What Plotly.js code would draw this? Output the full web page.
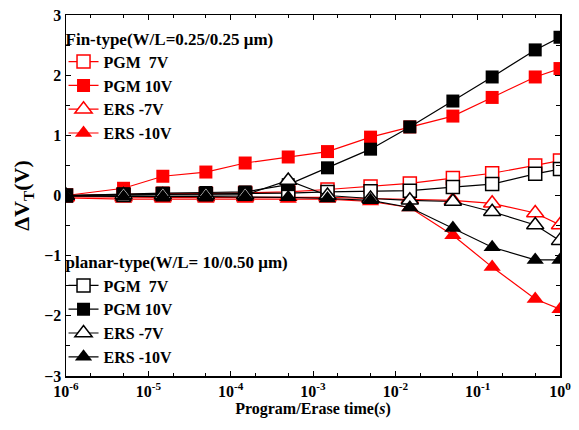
<!DOCTYPE html>
<html>
<head>
<meta charset="utf-8">
<script src="https://cdn.plot.ly/plotly-3.0.1.min.js"></script>
<style>html,body{margin:0;padding:0;background:#fff;}#chart{width:579px;height:430px;}</style>
</head>
<body>
<div id="chart"></div>
<script>
// Program/erase times (s)
var times = [1e-6, 5e-6, 1.5e-5, 5e-5, 1.5e-4, 5e-4, 1.5e-3, 5e-3, 1.5e-2, 5e-2, 1.5e-1, 5e-1, 1];

// Fin-type (W/L=0.25/0.25 um)
var finPGM7  = [0, 0.02, 0.03, 0.03, 0.04, 0.06, 0.10, 0.15, 0.20, 0.29, 0.37, 0.50, 0.58];
var finPGM10 = [0, 0.12, 0.32, 0.39, 0.54, 0.64, 0.73, 0.97, 1.14, 1.32, 1.63, 1.97, 2.11];
var finERS7  = [-0.02, -0.03, -0.03, -0.03, -0.03, -0.02, -0.03, -0.05, -0.06, -0.08, -0.13, -0.29, -0.49];
var finERS10 = [-0.04, -0.06, -0.06, -0.06, -0.06, -0.06, -0.06, -0.10, -0.20, -0.66, -1.19, -1.72, -1.89];

// planar-type (W/L=10/0.50 um)
var plPGM7  = [0, 0.01, 0.02, 0.02, 0.03, 0.04, 0.06, 0.07, 0.08, 0.14, 0.19, 0.36, 0.44];
var plPGM10 = [0, 0.03, 0.04, 0.05, 0.06, 0.18, 0.46, 0.77, 1.14, 1.57, 1.97, 2.42, 2.63];
var plERS7  = [0, 0.01, 0.01, 0.01, 0.01, 0.25, 0.00, -0.05, -0.08, -0.10, -0.27, -0.49, -0.75];
var plERS10 = [-0.01, -0.02, -0.02, -0.02, -0.02, -0.03, -0.05, -0.08, -0.20, -0.54, -0.86, -1.07, -1.07];

var labels = ['PGM  7V', 'PGM 10V', 'ERS -7V', 'ERS -10V'];

// axis ticks
var xTickVals = [1e-6, 1e-5, 1e-4, 1e-3, 1e-2, 1e-1, 1];
var xTickText = ['10<sup>-6</sup>', '10<sup>-5</sup>', '10<sup>-4</sup>', '10<sup>-3</sup>', '10<sup>-2</sup>', '10<sup>-1</sup>', '10<sup>0</sup>'];

function tr(y, name, color, symbol, open, legend) {
  return {
    x: times, y: y, name: name, type: 'scatter', mode: 'lines+markers',
    legend: legend,
    line: {color: color, width: 1.2},
    marker: {
      symbol: symbol,
      size: symbol === 'square' ? 13 : 15,
      color: open ? '#ffffff' : color,
      line: {color: color, width: open ? 1.5 : 0}
    }
  };
}

var data = [
  tr(finPGM7,  labels[0], '#ff0000', 'square', true,  'legend'),
  tr(finPGM10, labels[1], '#ff0000', 'square', false, 'legend'),
  tr(finERS7,  labels[2], '#ff0000', 'triangle-up', true,  'legend'),
  tr(finERS10, labels[3], '#ff0000', 'triangle-up', false, 'legend'),
  tr(plPGM7,  labels[0], '#000000', 'square', true,  'legend2'),
  tr(plPGM10, labels[1], '#000000', 'square', false, 'legend2'),
  tr(plERS7,  labels[2], '#000000', 'triangle-up', true,  'legend2'),
  tr(plERS10, labels[3], '#000000', 'triangle-up', false, 'legend2')
];

var serif = 'Liberation Serif, Times New Roman, serif';
var legFont = {family: serif, size: 16, color: '#000', weight: 'bold'};
var legTitleFont = {family: serif, size: 17, color: '#000', weight: 'bold'};

var layout = {
  width: 579, height: 430,
  margin: {l: 66, r: 19, t: 15, b: 54},
  paper_bgcolor: '#fff', plot_bgcolor: '#fff',
  font: {family: serif, color: '#000'},
  xaxis: {
    type: 'log', range: [-6, 0],
    tickmode: 'array', tickvals: xTickVals, ticktext: xTickText,
    showgrid: false, zeroline: false,
    showline: true, linecolor: '#000', linewidth: 1.5, mirror: 'ticks',
    ticks: 'inside', ticklen: 5, tickcolor: '#000',
    minor: {ticks: 'inside', ticklen: 3, tickcolor: '#000', showgrid: false, tickmode: 'auto'},
    tickfont: {family: serif, size: 16, weight: 'bold'},
    title: {text: 'Program/Erase time(<i>s</i>)', font: {family: serif, size: 16, weight: 'bold'}, standoff: 2}
  },
  yaxis: {
    range: [-3, 3], dtick: 1,
    showgrid: false, zeroline: false,
    showline: true, linecolor: '#000', linewidth: 1.5, mirror: 'ticks',
    ticks: 'inside', ticklen: 5, tickcolor: '#000',
    minor: {dtick: 0.5, ticks: 'inside', ticklen: 4, tickcolor: '#000', showgrid: false},
    tickfont: {family: serif, size: 16, weight: 'bold'},
    title: {text: '\u0394V<sub>T</sub>(V)', font: {family: serif, size: 22, weight: 'bold'}, standoff: 8}
  },
  legend: {
    x: -0.005, y: 0.979, xanchor: 'left', yanchor: 'top',
    bgcolor: 'rgba(0,0,0,0)', borderwidth: 0,
    font: legFont, tracegroupgap: 0, itemwidth: 30,
    title: {text: 'Fin-type(W/L=0.25/0.25 \u03bcm)', font: legTitleFont}
  },
  legend2: {
    x: -0.005, y: 0.359, xanchor: 'left', yanchor: 'top',
    bgcolor: 'rgba(0,0,0,0)', borderwidth: 0,
    font: legFont, tracegroupgap: 0, itemwidth: 30,
    title: {text: 'planar-type(W/L= 10/0.50 \u03bcm)', font: legTitleFont}
  },
  showlegend: true
};

Plotly.newPlot('chart', data, layout, {displayModeBar: false, staticPlot: true});
</script>
</body>
</html>
